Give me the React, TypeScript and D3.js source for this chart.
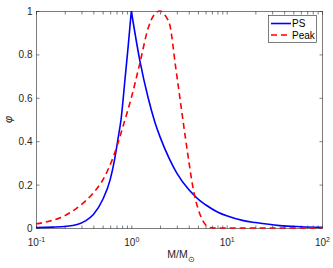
import React from "react";
import * as d3 from "d3";

// PS curve (left branch rises to the cusp at M = 1)
const psLeftMass = [0.1, 0.15, 0.2, 0.27, 0.33, 0.4, 0.5, 0.6, 0.67, 0.73, 0.78, 0.86, 0.93, 1];
const psLeftPhi = [0.002, 0.004, 0.007, 0.016, 0.033, 0.062, 0.13, 0.223, 0.32, 0.42, 0.5, 0.69, 0.845, 1];
const psRightMass = [1, 1.23, 1.5, 1.76, 2, 2.5, 3, 4, 4.5, 5.2, 6, 8, 10, 15, 20, 36, 60, 100];
const psRightPhi = [1, 0.77, 0.6, 0.49, 0.42, 0.32, 0.253, 0.177, 0.153, 0.127, 0.107, 0.074, 0.056, 0.034, 0.025, 0.011, 0.006, 0.003];

// Peak curve
const peakMass = [0.1, 0.14, 0.18, 0.27, 0.4, 0.5, 0.65, 0.82, 1.0, 1.23, 1.5, 1.75, 2.0, 2.3, 2.55, 2.9, 3.3, 3.68, 4.0, 4.3, 4.6, 5.0, 5.43, 6.0, 6.5, 7.0, 8, 10, 20, 50, 100];
const peakPhi = [0.019, 0.032, 0.047, 0.093, 0.162, 0.22, 0.33, 0.47, 0.6, 0.76, 0.92, 0.985, 1, 0.975, 0.93, 0.75, 0.57, 0.42, 0.31, 0.22, 0.15, 0.09, 0.047, 0.015, 0.004, 0.001, 0, 0, 0, 0, 0];

const xMajor = [0.1, 1, 10, 100];
const xExponents = ["-1", "0", "1", "2"];
const yTicks = [0, 0.2, 0.4, 0.6, 0.8, 1];
const yTickLabels = ["0", "0.2", "0.4", "0.6", "0.8", "1"];
const seriesNames = ["PS", "Peak"];

const W = 333, H = 268;
const left = 36, right = 322, top = 11, bottom = 228;
const axisColor = "#262626";
const font = "'Liberation Sans', Arial, Helvetica, sans-serif";

const zip = (a: number[], b: number[]) => a.map((v, i) => [v, b[i]] as [number, number]);

export default function App() {
  const x = d3.scaleLog().domain([0.1, 100]).range([left, right]);
  const y = d3.scaleLinear().domain([0, 1]).range([bottom, top]);
  const line = d3.line<[number, number]>()
    .x(d => x(d[0]))
    .y(d => y(d[1]))
    .curve(d3.curveMonotoneX);

  const psPath = (line(zip(psLeftMass, psLeftPhi)) || "") + (line(zip(psRightMass, psRightPhi)) || "");
  const peakPath = line(zip(peakMass, peakPhi)) || "";
  const minor = x.ticks().filter(t => !xMajor.some(m => Math.abs(m - t) < 1e-9));

  return (
    <div style={{ position: "absolute", left: 0, top: 0 }}>
      <svg width={W} height={H} style={{ display: "block", fontFamily: font }}>
        <rect width={W} height={H} fill="#fff" />
        {/* axes box */}
        <rect x={left + 0.5} y={top + 0.5} width={right - left} height={bottom - top} fill="#fff" stroke={axisColor} strokeWidth={0.6} />
        <g stroke={axisColor} strokeWidth={0.6}>
          {xMajor.concat(minor).map((t, i) => (
            <g key={i}>
              <line x1={x(t) + 0.5} x2={x(t) + 0.5} y1={bottom + 0.5} y2={bottom - 2.5} />
              <line x1={x(t) + 0.5} x2={x(t) + 0.5} y1={top + 0.5} y2={top + 3.5} />
            </g>
          ))}
          {yTicks.map((t, i) => (
            <g key={i}>
              <line x1={left + 0.5} x2={left + 3.5} y1={y(t) + 0.5} y2={y(t) + 0.5} />
              <line x1={right + 0.5} x2={right - 2.5} y1={y(t) + 0.5} y2={y(t) + 0.5} />
            </g>
          ))}
        </g>
        <g fill={axisColor} fontSize={10}>
          {yTicks.map((t, i) => (
            <text key={i} x={left - 3.5} y={y(t) + 0.5} dy="0.35em" textAnchor="end">{yTickLabels[i]}</text>
          ))}
          {xMajor.map((t, i) => (
            <text key={i} x={x(t) + 0.5} y={246} textAnchor="middle">
              10<tspan fontSize={7} dy={-4.5}>{xExponents[i]}</tspan>
            </text>
          ))}
        </g>
        {/* axis labels */}
        <text x={181} y={258} textAnchor="middle" fontSize={10.5} fill={axisColor}>
          M/M<tspan fontSize={8} dy={4}>⊙</tspan>
        </text>
        <text transform={`translate(12,${(top + bottom) / 2}) rotate(-90)`} textAnchor="middle" fontSize={11} fill={axisColor} fontStyle="italic">φ</text>
        {/* curves */}
        <path d={psPath} fill="none" stroke="#0000ff" strokeWidth={1.6} strokeLinejoin="round" />
        <path d={peakPath} fill="none" stroke="#ff0000" strokeWidth={1.6} strokeDasharray="6,4" />
        {/* legend */}
        <g>
          <rect x={268.5} y={15.5} width={48} height={27} fill="#fff" stroke={axisColor} strokeWidth={0.6} />
          <line x1={271} x2={291} y1={23.5} y2={23.5} stroke="#0000ff" strokeWidth={1.6} />
          <line x1={271} x2={291} y1={35} y2={35} stroke="#ff0000" strokeWidth={1.6} strokeDasharray="6,4" />
          <text x={292} y={23.5} dy="0.35em" fontSize={10} fill="#000">{seriesNames[0]}</text>
          <text x={292} y={35} dy="0.35em" fontSize={10} fill="#000">{seriesNames[1]}</text>
        </g>
      </svg>
    </div>
  );
}
